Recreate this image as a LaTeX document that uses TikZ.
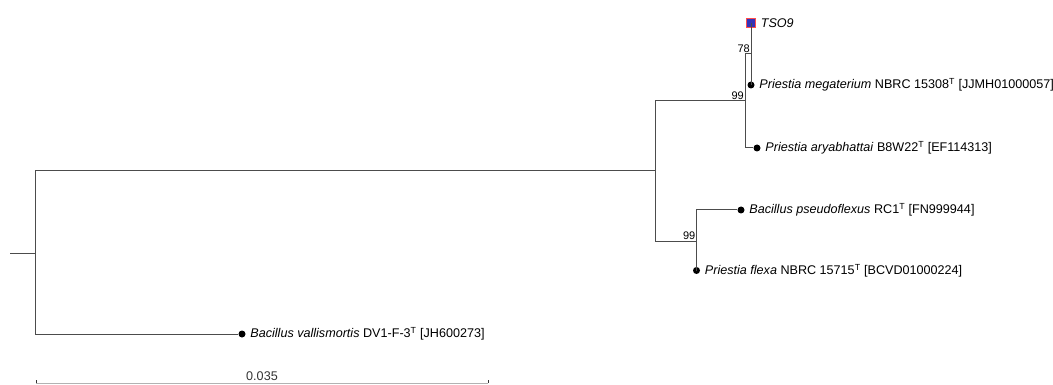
\documentclass[tikz,border=0pt]{standalone}
\usepackage{fontspec}
\setmainfont{Liberation Sans}
\usetikzlibrary{positioning}

\tikzset{
  branch/.style={draw=black!70, line width=1pt},
  leaf/.style={circle, fill=black, inner sep=0pt, minimum size=7pt},
  taxon/.style={right=4.5pt of #1, anchor=west, inner sep=0pt, font=\fontsize{12.6}{14}\selectfont},
  boot/.style={anchor=south east, inner sep=1pt, font=\fontsize{11}{12}\selectfont},
}
\newcommand{\typestrain}{\textsuperscript{T}}

\begin{document}
\begin{tikzpicture}[x=1pt, y=-1pt]
\useasboundingbox (0,0) rectangle (1053,385);

% internal nodes
\coordinate (stub) at (10,253);
\coordinate (root) at (35,253);
\coordinate (nclade) at (655,171);
\coordinate (npri) at (745,101);
\coordinate (ntso) at (751,54);
\coordinate (nbac) at (696.5,241);

% leaves
\node[draw=red!70, fill=blue!65!black!80, line width=1.2pt, minimum size=9pt, inner sep=0pt] (tso) at (751,23) {};
\node[leaf] (meg) at (751,85) {};
\node[leaf] (ary) at (757,148) {};
\node[leaf] (pse) at (741,210) {};
\node[leaf] (fle) at (696.5,270.5) {};
\node[leaf] (val) at (242,334) {};

% branches
\draw[branch] (stub) -- (root);
\draw[branch] (root) |- (nclade);
\draw[branch] (root) |- (val);
\draw[branch] (nclade) |- (npri);
\draw[branch] (nclade) |- (nbac);
\draw[branch] (npri) |- (ntso);
\draw[branch] (npri) |- (ary);
\draw[branch] (ntso) |- (tso);
\draw[branch] (ntso) |- (meg);
\draw[branch] (nbac) |- (pse);
\draw[branch] (nbac) |- (fle);

% bootstrap values
\node[boot] (b78) at (ntso) {78};
\node[boot] (b99a) at (npri) {99};
\node[boot] (b99b) at (nbac) {99};

% taxon names
\node[taxon=tso] (ltso) {\textit{TSO9}};
\node[taxon=meg] (lmeg) {\textit{Priestia megaterium} NBRC 15308\typestrain{} [JJMH01000057]};
\node[taxon=ary] (lary) {\textit{Priestia aryabhattai} B8W22\typestrain{} [EF114313]};
\node[taxon=pse] (lpse) {\textit{Bacillus pseudoflexus} RC1\typestrain{} [FN999944]};
\node[taxon=fle] (lfle) {\textit{Priestia flexa} NBRC 15715\typestrain{} [BCVD01000224]};
\node[taxon=val] (lval) {\textit{Bacillus vallismortis} DV1-F-3\typestrain{} [JH600273]};

% scale bar
\coordinate (sbl) at (36,383);
\coordinate (sbr) at (488,383);
\draw[draw=black!30, line width=1pt] (sbl) -- node[above=1pt, inner sep=1pt, font=\fontsize{12.6}{14}\selectfont, text=black!80] (sblabel) {0.035} (sbr);
\draw[draw=black!80, line width=1pt] (sbl) -- ++(0,-3);
\draw[draw=black!80, line width=1pt] (sbr) -- ++(0,-3);
\end{tikzpicture}
\end{document}
